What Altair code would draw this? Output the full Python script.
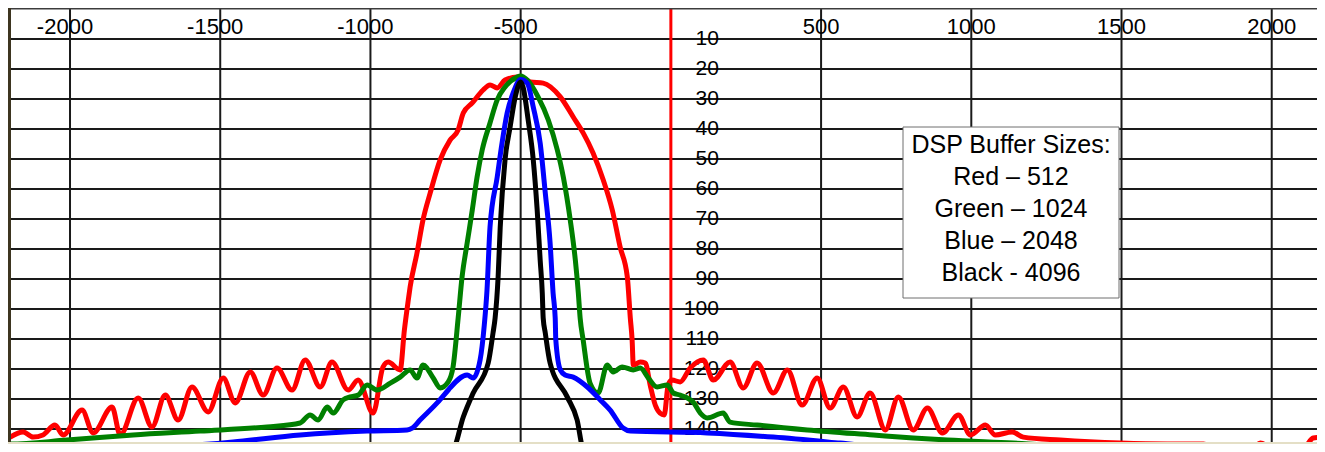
import altair as alt
import pandas as pd

# ---------------- data ----------------
red_x = [-2199, -2156, -2123, -2090, -2050, -2023, -1960, -1923, -1860, -1833,
         -1773, -1727, -1683, -1640, -1594, -1540, -1490, -1450, -1400, -1357,
         -1311, -1261, -1217, -1167, -1128, -1074, -1041, -991, -958, -941,
         -901, -887, -874, -868, -845, -825, -801, -768, -735, -708,
         -691, -661, -625, -602, -578, -552, -512, -500, -468, -425,
         -368, -325, -292, -259, -225, -195, -169, -145, -135, -129,
         -125, -102, -85, -69, -52, -36, -22, -9, 4, 31,
         64, 108, 141, 197, 241, 287, 341, 388, 437, 487,
         530, 574, 620, 663, 714, 757, 807, 854, 904, 957,
         997, 1047, 1080, 1136, 1173, 1296, 1496, 1653, 1773, 1806,
         1939, 1962, 1996, 2106, 2138, 2172]
red_y = [142.7, 141, 142.7, 142, 138.7, 142, 133.7, 141.3, 132.7, 142,
         129.7, 139.3, 128.7, 137, 126, 134.3, 123, 131.3, 121, 128.7,
         119.7, 127, 117, 126, 117.7, 127, 123.7, 134.7, 119.3, 117.7,
         120.3, 107, 97, 92.7, 81.3, 70.3, 61.3, 50.3, 43.7, 40.3,
         34.7, 31.3, 27, 25.3, 26.3, 23.7, 22.7, 22.7, 24.3, 24.7,
         29.3, 36, 41.3, 48, 57, 67, 79.3, 89.3, 103, 110.3,
         118.7, 117.7, 118, 125.3, 132, 134.7, 135.3, 125.3, 123.7, 124.3,
         119.7, 117, 123.7, 117.7, 126.3, 118, 128, 120.3, 132, 123,
         133, 126, 136, 128, 140.3, 129.3, 140.3, 133, 141.3, 135.3,
         142, 138.7, 142, 141, 142.7, 143.7, 144.7, 145, 145, 146,
         146, 144.7, 146, 146.3, 143, 142.7]

green_x = [-2233, -2199, -2010, -1790, -1567, -1344, -1234, -1201, -1174, -1144,
           -1124, -1091, -1068, -1041, -1011, -978, -934, -901, -868, -845,
           -825, -791, -768, -741, -725, -708, -695, -678, -661, -645,
           -628, -602, -578, -552, -512, -500, -478, -442, -408, -378,
           -358, -335, -318, -308, -302, -292, -269, -242, -212, -192,
           -162, -125, -102, -75, -46, -12, 8, 31, 74, 98,
           121, 174, 197, 287, 454, 674, 807, 920, 1140, 1420,
           1763, 1929, 1962, 2062]
green_y = [144.7, 145, 143.7, 142, 140.7, 139.3, 138, 135.3, 137, 132.7,
           134.7, 130.3, 129.3, 128.7, 125.3, 127, 124.7, 122.7, 120.3, 123,
           118.7, 123, 126.3, 124.3, 119.3, 103, 89.3, 78, 67, 56,
           47, 38, 30.3, 26, 22.7, 22.3, 23.7, 29.3, 37, 47,
           56, 70.3, 83.7, 94.7, 103, 110.3, 124.7, 128, 118.7, 121,
           119.3, 120.3, 119.7, 123, 126, 125.3, 128, 128.7, 131, 134.7,
           136.3, 134.7, 137.7, 138.7, 140.3, 142, 143, 143.7, 144.7, 146.3,
           146.7, 145.7, 146.7, 147.3]

blue_x = [-2033, -1909, -1676, -1457, -1234, -1011, -878, -861, -835, -778,
          -741, -735, -678, -658, -635, -621, -612, -602, -578, -562,
          -545, -525, -500, -478, -458, -435, -418, -402, -392, -385,
          -383, -368, -352, -325, -278, -235, -202, -159, -135, 121,
          341, 564, 730, 797, 903, 1007, 1097]
blue_y = [148.7, 147, 146, 144.3, 142, 140.7, 140.3, 139.7, 137, 131.3,
          127, 126.3, 122, 123, 117, 105.3, 93.7, 72.7, 56, 44.7,
          34.7, 28, 23.5, 24.7, 32.7, 44.7, 61.3, 78, 94.7, 103,
          110.3, 120.3, 122, 122.7, 126, 130.3, 133.7, 139.7, 140.7, 141.3,
          142.7, 144.7, 146.3, 146, 146.3, 146.7, 148.7]

black_x = [-1320, -1284, -1124, -1001, -868, -818, -768, -725, -691, -658,
           -608, -592, -585, -575, -568, -552, -535, -518, -500, -492,
           -475, -458, -445, -435, -428, -425, -418, -402, -345, -312,
           -292, -269, -202, -178, -119, -36, 31, 98, 164, 197]
black_y = [150, 148.7, 146, 145.7, 146, 147.7, 149, 147, 136, 128,
           118, 108, 103, 89.3, 72.7, 50.3, 39.3, 29.3, 24.3, 26,
           37, 50.3, 67, 83.7, 94.7, 103, 108, 118, 129.3, 137,
           147, 149, 149, 146.5, 146, 145.7, 146, 146.3, 146.7, 149]

x_ticks = [-2000, -1500, -1000, -500, 500, 1000, 1500, 2000]
y_ticks = [10, 20, 30, 40, 50, 60, 70, 80, 90, 100, 110, 120, 130, 140]
legend_lines = ["DSP Buffer Sizes:", "Red \u2013 512", "Green \u2013 1024",
                "Blue \u2013 2048", "Black - 4096"]

# ---------------- chart ----------------
W, H = 1309, 436
FONT = "Liberation Sans"
xs = alt.Scale(domain=[-2206.4, 2150.7], nice=False, zero=False)
ys = alt.Scale(domain=[-0.33, 145.0], nice=False, zero=False, reverse=True)
GRID = "#1a1a1a"

grid_h = alt.Chart(pd.DataFrame({"y": y_ticks})).mark_rule(
    color=GRID, strokeWidth=2).encode(y=alt.Y("y:Q", scale=ys, axis=None))
grid_v = alt.Chart(pd.DataFrame({"x": x_ticks})).mark_rule(
    color=GRID, strokeWidth=2).encode(x=alt.X("x:Q", scale=xs, axis=None))
zero_line = alt.Chart(pd.DataFrame({"x": [0]})).mark_rule(
    color="#ff0000", strokeWidth=3).encode(x=alt.X("x:Q", scale=xs, axis=None))

y_labels = alt.Chart(pd.DataFrame({
    "x": [0] * len(y_ticks), "y": y_ticks, "t": [str(v) for v in y_ticks]
})).mark_text(
    align="right", baseline="middle", dx=48, font=FONT, fontSize=21, color="#000000"
).encode(x=alt.X("x:Q", scale=xs, axis=None), y=alt.Y("y:Q", scale=ys, axis=None), text="t:N")

neg = [v for v in x_ticks if v < 0]
pos = [v for v in x_ticks if v > 0]
top_neg = alt.Chart(pd.DataFrame({"x": neg, "t": [str(v) for v in neg]})).mark_text(
    align="center", baseline="middle", dx=-5, font=FONT, fontSize=22, color="#000000"
).encode(x=alt.X("x:Q", scale=xs, axis=None), y=alt.value(18.5), text="t:N")
top_pos = alt.Chart(pd.DataFrame({"x": pos, "t": [str(v) for v in pos]})).mark_text(
    align="center", baseline="middle", font=FONT, fontSize=22, color="#000000"
).encode(x=alt.X("x:Q", scale=xs, axis=None), y=alt.value(18.5), text="t:N")


def curve(xv, yv, color):
    df = pd.DataFrame({"x": xv, "y": yv, "i": list(range(len(xv)))})
    return alt.Chart(df).mark_line(
        color=color, strokeWidth=5, clip=True, interpolate="monotone",
        strokeJoin="round", strokeCap="round"
    ).encode(
        x=alt.X("x:Q", scale=xs, axis=None),
        y=alt.Y("y:Q", scale=ys, axis=None),
        order="i:Q",
    )


red = curve(red_x, red_y, "#ff0000")
green = curve(green_x, green_y, "#008000")
blue = curve(blue_x, blue_y, "#0000ff")
black = curve(black_x, black_y, "#000000")

one = pd.DataFrame({"a": [0]})
box = alt.Chart(one).mark_rect(fill="#ffffff", stroke="#6e6e6e", strokeWidth=1).encode(
    x=alt.value(895), x2=alt.value(1111), y=alt.value(119), y2=alt.value(290))

legend_layers = []
for k, line in enumerate(legend_lines):
    legend_layers.append(
        alt.Chart(pd.DataFrame({"t": [line]})).mark_text(
            align="center", baseline="middle", font=FONT, fontSize=25, color="#000000"
        ).encode(x=alt.value(1003), y=alt.value(137 + 32 * k), text="t:N")
    )

top_border = alt.Chart(one).mark_rule(color="#3c3c3c", strokeWidth=2).encode(
    x=alt.value(0), x2=alt.value(W), y=alt.value(0.5))
left_border = alt.Chart(one).mark_rule(color="#3d3520", strokeWidth=3).encode(
    x=alt.value(1.5), y=alt.value(0), y2=alt.value(H))
bottom_border = alt.Chart(one).mark_rule(color="#e4dfc6", strokeWidth=2).encode(
    x=alt.value(0), x2=alt.value(W), y=alt.value(H - 1))

chart = alt.layer(
    grid_h, grid_v, zero_line, y_labels, top_neg, top_pos,
    red, green, blue, black, box, *legend_layers,
    top_border, left_border, bottom_border,
).properties(
    width=W, height=H, padding=0,
    autosize=alt.AutoSizeParams(type="none"),
    background="#ffffff",
).configure_view(strokeWidth=0)

chart.save("out.html", embed_options={"renderer": "svg", "actions": False})
